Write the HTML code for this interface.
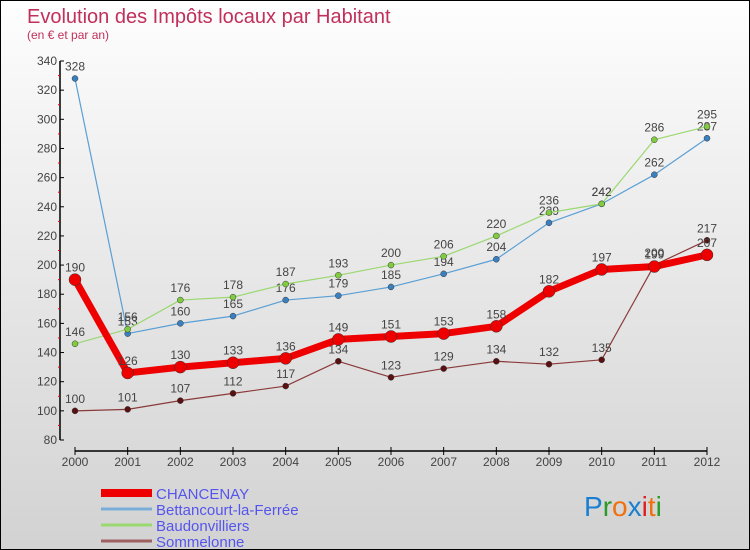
<!DOCTYPE html>
<html><head><meta charset="utf-8"><style>
body{margin:0;width:750px;height:550px;overflow:hidden;font-family:"Liberation Sans",sans-serif}
#wrap{position:relative;width:748px;height:548px;border:1px solid #000;background:linear-gradient(#fefefe,#f0f0f0 30%,#d2d2d2)}
svg{position:absolute;left:0;top:0}
</style></head><body>
<div id="wrap">
<svg id="c" width="748" height="548" font-family="Liberation Sans, sans-serif">
<text x="26" y="22" font-size="20" fill="#c0305a">Evolution des Impôts locaux par Habitant</text>
<text x="26" y="38" font-size="12" fill="#c0305a">(en € et par an)</text>
</svg>
</div>
<script>
const years=[2000,2001,2002,2003,2004,2005,2006,2007,2008,2009,2010,2011,2012];
const chancenay=[190,126,130,133,136,149,151,153,158,182,197,199,207];
const bettancourt=[328,153,160,165,176,179,185,194,204,229,242,262,287];
const baudonvilliers=[146,156,176,178,187,193,200,206,220,236,242,286,295];
const sommelonne=[100,101,107,112,117,134,123,129,134,132,135,200,217];
const yTicks=[80,100,120,140,160,180,200,220,240,260,280,300,320,340];
const seriesNames=["CHANCENAY","Bettancourt-la-Ferrée","Baudonvilliers","Sommelonne"];
const svg=document.getElementById('c');const NS='http://www.w3.org/2000/svg';
function X(i){return 74+(706-74)*i/(years.length-1);}
function Y(v){return 439-(v-80)*(379/260);}
function mk(t,a,p){const e=document.createElementNS(NS,t);for(const k in a)e.setAttribute(k,a[k]);(p||svg).appendChild(e);return e;}
let ya=mk('line',{x1:59,y1:Y(340),x2:59,y2:Y(80),stroke:'#000','stroke-width':1.5});


for(let v=90;v<340;v+=20){mk('line',{x1:57,x2:59,y1:Y(v),y2:Y(v),stroke:'#e00'});}
yTicks.forEach(v=>{mk('line',{x1:59,x2:63,y1:Y(v),y2:Y(v),stroke:'#000'});
const t=mk('text',{x:56,y:Y(v)+4,'text-anchor':'end','font-size':12,fill:'#444'});t.textContent=v;

});
let xa=mk('line',{x1:74,x2:706,y1:450,y2:450,stroke:'#000','stroke-width':1.5});


years.forEach((y,i)=>{mk('line',{x1:X(i),x2:X(i),y1:446,y2:454,stroke:'#000'});
const t=mk('text',{x:X(i),y:465,'text-anchor':'middle','font-size':12,fill:'#444'});t.textContent=y;

});
function series(data,color,dot,w,r,name){
const g=mk('g',{});


mk('polyline',{points:data.map((v,i)=>X(i)+','+Y(v)).join(' '),fill:'none',stroke:color,'stroke-width':w,'stroke-linejoin':'round'},g);
data.forEach((v,i)=>{const c=mk('circle',{cx:X(i),cy:Y(v),r:r,fill:dot,stroke:'#333','stroke-width':0.5},g);


const t=mk('text',{x:X(i),y:Y(v)-8,'text-anchor':'middle','font-size':12,fill:'#444'},g);t.textContent=v;

});}
series(sommelonne,'#8b3a3a','#5a1010',1.2,3,'series-sommelonne');
series(bettancourt,'#5a9fd4','#3a80c0',1.2,3,'series-bettancourt');
series(baudonvilliers,'#9ad870','#80cc40',1.2,3,'series-baudonvilliers');
series(chancenay,'#ee0000','#ee0000',7,6,'series-chancenay');
const lc=['#ee0000','#7aaed8','#9ad870','#a06060'];const lw=[8,3,3,3];
seriesNames.forEach((n,i)=>{const y=492+i*16;
const l=mk('line',{x1:100,x2:151,y1:y,y2:y,stroke:lc[i],'stroke-width':lw[i]});


const t=mk('text',{x:155,y:y+6,'font-size':15,fill:'#5555ee'});t.textContent=n;

});
const logo=mk('text',{x:583,y:515,'font-size':28});


[['P','#1a7fd0'],['r','#2a9a2a'],['o','#f07010'],['x','#1a7fd0'],['i','#e02020'],['t','#f07010'],['i','#2a9a2a']].forEach(([c,f])=>{mk('tspan',{fill:f},logo).textContent=c;});
</script>
</body></html>
